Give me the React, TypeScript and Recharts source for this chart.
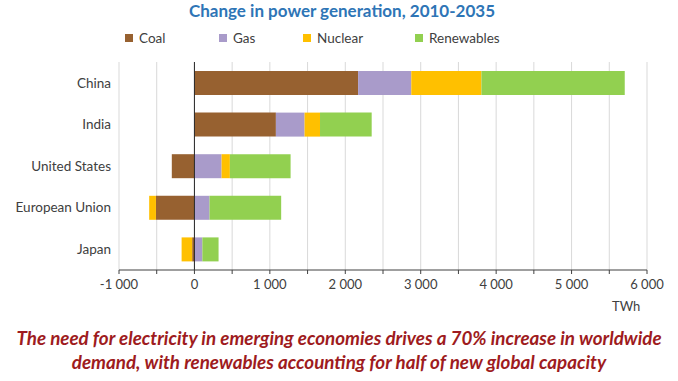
import React from "react";
import {
  BarChart,
  Bar,
  XAxis,
  YAxis,
  CartesianGrid,
  ReferenceLine,
} from "recharts";

const countries = ["China", "India", "United States", "European Union", "Japan"];
const coal = [2170, 1080, -300, -510, -30];
const gas = [705, 380, 360, 200, 105];
const nuclear = [930, 205, 110, -90, -140];
const renewables = [1900, 685, 805, 950, 215];
const xTicks = [-1000, -500, 0, 500, 1000, 1500, 2000, 2500, 3000, 3500, 4000, 4500, 5000, 5500, 6000];

const SERIES = [
  { key: "coal", name: "Coal", color: "#976130" },
  { key: "gas", name: "Gas", color: "#A99BCA" },
  { key: "nuclear", name: "Nuclear", color: "#FFC000" },
  { key: "renewables", name: "Renewables", color: "#92D050" },
];

const data = countries.map((name, i) => ({
  name,
  coal: coal[i],
  gas: gas[i],
  nuclear: nuclear[i],
  renewables: renewables[i],
}));

const FONT = "Lato, 'Open Sans', sans-serif";

// thousands with a space, labels only every 1000
function fmtTick(v: number): string {
  if (v % 1000 !== 0) return "";
  if (v === 0) return "0";
  const sign = v < 0 ? "-" : "";
  return `${sign}${Math.abs(v) / 1000} 000`;
}

const legendPos = [125, 219, 303, 415];

export default function App() {
  return (
    <div
      style={{
        position: "absolute",
        left: 0,
        top: 0,
        width: 678,
        height: 381,
        background: "#fff",
        overflow: "hidden",
        fontFamily: FONT,
      }}
    >
      <div
        style={{
          position: "absolute",
          top: 2,
          left: 0,
          width: 678,
          paddingLeft: 6,
          boxSizing: "border-box",
          textAlign: "center",
          fontSize: 17,
          lineHeight: "18px",
          fontWeight: 700,
          color: "#2E75B6",
        }}
      >
        Change in power generation, 2010-2035
      </div>

      {SERIES.map((s, i) => (
        <div
          key={s.key}
          style={{
            position: "absolute",
            left: legendPos[i],
            top: 30,
            display: "flex",
            alignItems: "center",
            fontSize: 13.5,
            color: "#404040",
            lineHeight: "16px",
          }}
        >
          <span style={{ display: "inline-block", width: 8, height: 8, background: s.color, marginRight: 6 }} />
          {s.name}
        </div>
      ))}

      <div style={{ position: "absolute", left: 0, top: 0 }}>
        <BarChart
          width={678}
          height={308}
          data={data}
          layout="vertical"
          stackOffset="sign"
          margin={{ top: 62, right: 31, left: 0, bottom: 0 }}
        >
          <CartesianGrid horizontal={false} stroke="#D9D9D9" />
          <XAxis
            type="number"
            domain={[-1000, 6000]}
            ticks={xTicks}
            tickFormatter={fmtTick}
            interval={0}
            height={38}
            tickSize={4}
            tickMargin={6}
            axisLine={{ stroke: "#404040" }}
            tickLine={{ stroke: "#404040" }}
            tick={{ fontSize: 13, fill: "#404040", fontFamily: FONT }}
          />
          <YAxis
            type="category"
            dataKey="name"
            width={119}
            axisLine={false}
            tickLine={false}
            tick={{ fontSize: 13.5, fill: "#404040", fontFamily: FONT }}
          />
          {SERIES.map((s) => (
            <Bar
              key={s.key}
              dataKey={s.key}
              name={s.name}
              stackId="a"
              fill={s.color}
              barSize={24}
              isAnimationActive={false}
            />
          ))}
          <ReferenceLine x={0} stroke="#262626" strokeWidth={1} />
        </BarChart>
      </div>

      <div
        style={{
          position: "absolute",
          left: 612,
          top: 298,
          fontSize: 13,
          color: "#404040",
        }}
      >
        TWh
      </div>

      <div
        style={{
          position: "absolute",
          top: 326,
          left: 0,
          width: 678,
          textAlign: "center",
          fontSize: 18.8,
          lineHeight: "24px",
          fontWeight: 700,
          fontStyle: "italic",
          color: "#9E1B20",
          whiteSpace: "nowrap",
        }}
      >
        The need for electricity in emerging economies drives a 70% increase in worldwide
        <br />
        demand, with renewables accounting for half of new global capacity
      </div>
    </div>
  );
}
